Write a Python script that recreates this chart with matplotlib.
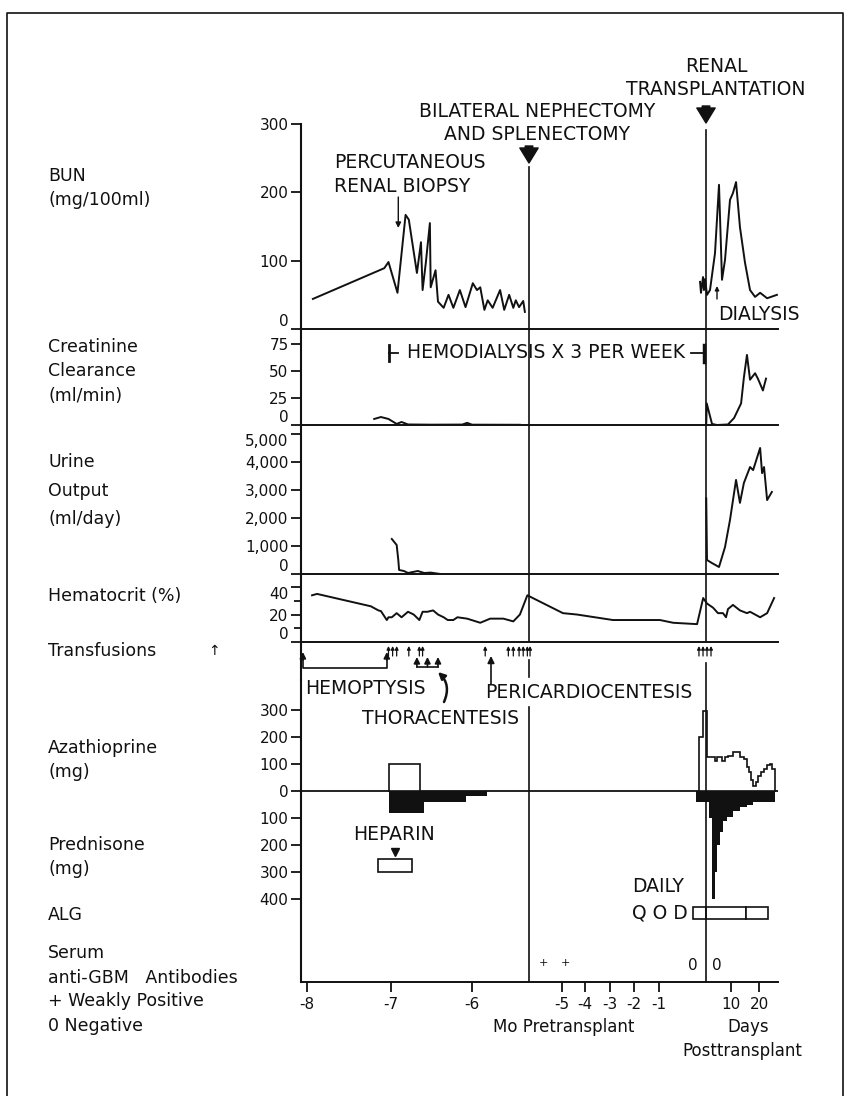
import numpy as np
import matplotlib
matplotlib.use('Agg')
import matplotlib.pyplot as plt
from matplotlib.patches import Rectangle
from matplotlib.lines import Line2D
from matplotlib.transforms import blended_transform_factory

plt.rcParams['font.family'] = ['DejaVu Sans']

W, H = 846, 1096
MO = 30.0          # pretransplant times are kept in months, the rest in days
INK = '#111111'

# ---------------- data ----------------
# BUN (mg/100ml)
bun_pre_mo = [-7.93, -7.08, -7.03, -6.92, -6.82, -6.78, -6.68, -6.63, -6.61, -6.57, -6.52, -6.51,
              -6.45, -6.42, -6.35, -6.29, -6.23, -6.15, -6.08, -5.99, -5.94, -5.90, -5.85, -5.81,
              -5.75, -5.66, -5.61, -5.55, -5.50, -5.47, -5.43, -5.38, -5.36]
bun_pre = [44, 89, 98, 53, 167, 160, 82, 127, 57, 97, 155, 61,
           86, 40, 31, 50, 31, 57, 32, 67, 57, 61, 28, 42,
           31, 57, 28, 50, 31, 42, 32, 41, 25]
bun_post_d = [-3.8, -3.2, -1.9, -1.3, -0.6, 0.4, 1.6, 3.6, 5.2, 6.4, 7.6, 9.6, 10.7, 11.8,
              13.2, 15.0, 16.8, 18.6, 20.4, 22.9, 26.4]
bun_post = [69, 53, 76, 57, 73, 50, 57, 111, 211, 72, 101, 189, 199, 215,
            149, 97, 57, 47, 53, 45, 50]

# creatinine clearance (ml/min)
cr_pre_mo = [-7.20, -7.12, -7.03, -6.93, -6.87, -6.79, -6.50, -6.12, -6.06, -6.00, -5.42]
cr_pre = [5.6, 7.4, 5.6, 1.0, 2.8, 0.5, 0.3, 0.4, 2.0, 0.3, 0.2]
cr_post_d = [0.1, 0.3, 2.4, 4.4, 8.8, 11.1, 13.6, 14.6, 15.7, 16.8, 18.6, 19.6, 21.4, 22.5]
cr_post = [0, 20, 1, 0, 0.5, 6.5, 20, 44, 65, 42, 48, 43, 32, 43]

# urine output (ml/day)
ur_pre_mo = [-6.99, -6.93, -6.91, -6.90, -6.84, -6.79, -6.67, -6.59, -6.51, -6.39]
ur_pre = [1250, 1036, 500, 143, 107, 36, 107, 36, 50, 0]
ur_post_d = [0.1, 0.4, 2.4, 5.2, 7.6, 9.6, 11.8, 13.2, 14.6, 16.8, 17.9, 20.4, 21.1, 21.8, 22.9, 24.6]
ur_post = [2700, 500, 390, 250, 960, 1930, 3360, 2540, 3250, 3820, 3710, 4500, 3600, 3820, 2640, 2930]

# hematocrit (%)
ht_pre_mo = [-7.94, -7.88, -7.24, -7.15, -7.12, -7.05, -7.03, -6.99, -6.93, -6.87,
             -6.79, -6.72, -6.65, -6.61, -6.55, -6.48, -6.42, -6.35, -6.30, -6.23,
             -6.18, -6.06, -5.90, -5.78, -5.62, -5.50, -5.42, -5.33, -5.30, -4.96,
             -4.35, -2.88, -0.98, -0.70, -0.19, -0.06]
ht_pre = [34, 35, 26, 23, 22.5, 16, 18, 18, 21, 18,
          22, 20, 16, 22, 22, 23, 20, 18, 16, 16,
          18, 17, 14, 17, 17, 15, 20, 34, 33, 21,
          20, 16, 16, 14, 13, 32]
ht_post_d = [0.4, 2.8, 4.8, 6.8, 8.0, 8.8, 10.7, 13.2, 15.7, 16.8, 18.6, 20.4, 22.9, 25.4]
ht_post = [28, 25, 21, 21, 18, 24, 27, 23, 21, 22, 20, 18, 21, 32]

# events
transf_pre_mo = [-7.03, -6.98, -6.93, -6.78, -6.65, -6.61, -5.84, -5.56, -5.50, -5.43, -5.38, -5.33, -5.30]
transf_post_d = [-4.5, -1.9, 0.4, 2.0]
hemoptysis_mo = [-8.05, -7.05]
thoracentesis_mo = [-6.68, -6.55, -6.42]
pericardio_mo = -5.77
biopsy_mo = -6.91
nephrectomy_mo = -5.31
transplant_d = 0.0
dialysis_d = 4.4
hemodialysis_start_mo = -7.02
hemodialysis_end_d = -1.5

# azathioprine / prednisone (mg), step edges and doses
aza_pre_edges_mo = [-7.02, -6.64]
aza_pre = [100]
aza_post_edges_d = [-4.5, -1.9, 0.4, 3.6, 4.4, 6.4, 7.6, 8.8, 10.7, 13.2, 14.6, 15.7,
                    16.4, 17.1, 17.9, 18.9, 19.6, 20.7, 21.8, 22.9, 23.9, 24.6, 25.7]
aza_post = [200, 295, 125, 110, 125, 110, 125, 130, 145, 125, 120,
            90, 70, 40, 20, 35, 55, 70, 80, 95, 100, 80]
pred_pre_edges_mo = [-7.02, -6.59, -6.08, -5.82]
pred_pre = [80, 40, 20]
pred_post_edges_d = [-6.4, 1.2, 2.4, 3.6, 4.4, 5.6, 6.8, 8.4, 10.7, 13.2, 15.7, 17.9, 25.7]
pred_post = [40, 100, 400, 300, 200, 150, 110, 95, 75, 60, 50, 40]
heparin_mo = [-7.16, -6.74]
heparin_mark_mo = -6.95

alg_edges_d = [-8.3, 0.0, 15.4, 23.2]
serum_plus_mo = [-5.17, -4.87]
serum_zero_d = [-8.3, 4.4]

xtick_days = [-240, -210, -180, -150, -120, -90, -60, -30, 10, 20]
xtick_labels = ['-8', '-7', '-6', '-5', '-4', '-3', '-2', '-1', '10', '20']

# broken time axis: days -> horizontal position
axis_days = [-250, -240, -210, -180, -159.3, -150, -120, -90, -60, -30, 0, 10, 20, 30]
axis_pos = [279.5, 307, 391, 472, 529, 562, 585, 610, 634, 659, 706, 731, 759, 787]


def fwd(d):
    return np.interp(d, axis_days, axis_pos)


def inv(p):
    return np.interp(p, axis_pos, axis_days)


def yf(py):
    return 1 - py / H


def ftxt(x, y, s, size=13.5, ha='left', **kw):
    fig.text(x / W, yf(y), s, size=size, ha=ha, va='center', color=INK, **kw)


fig = plt.figure(figsize=(W / 100, H / 100), dpi=100)

X0, X1 = 301, 778


def panel(top, bottom, ylim, bottom_spine=True):
    ax = fig.add_axes([X0 / W, yf(bottom), (X1 - X0) / W, (bottom - top) / H])
    ax.set_xscale('function', functions=(fwd, inv))
    ax.set_xlim(float(inv(X0)), float(inv(X1)))
    ax.set_ylim(*ylim)
    ax.patch.set_alpha(0)
    for s in ['top', 'right']:
        ax.spines[s].set_visible(False)
    ax.spines['bottom'].set_visible(bottom_spine)
    ax.spines['left'].set_linewidth(1.5)
    ax.spines['bottom'].set_linewidth(1.4)
    ax.spines['left'].set_color(INK)
    ax.spines['bottom'].set_color(INK)
    ax.tick_params(axis='x', which='both', bottom=False, labelbottom=False)
    ax.tick_params(axis='y', direction='out', length=7, width=1.3, labelsize=11, pad=2, colors=INK)
    return ax


ax_bun = panel(124, 329, (0, 300))
ax_cr = panel(329, 425, (0, 89))
ax_ur = panel(425, 574, (0, 5320))
ax_ht = panel(574, 642, (0, 49.5))
ax_tr = panel(642, 680, (0, 1), bottom_spine=False)
ax_dr = panel(680, 982, (-707, 411))

ax_bun.set_yticks([0, 100, 200, 300])
ax_cr.set_yticks([0, 25, 50, 75])
ax_ur.set_yticks([0, 1000, 2000, 3000, 4000, 5000],
                 ['0', '1,000', '2,000', '3,000', '4,000', '5,000'])
ax_ht.set_yticks([0, 20, 40])
ax_ht.set_yticks([10, 30], minor=True)
ax_ht.tick_params(axis='y', which='minor', length=5, width=1.2)
ax_tr.set_yticks([])
dr_ticks = [300, 200, 100, 0, -100, -200, -300, -400]
ax_dr.set_yticks(dr_ticks, [str(abs(t)) for t in dr_ticks])

# lift crowded labels off the panel borders
for ax in [ax_bun, ax_cr, ax_ur, ax_ht]:
    for lab in ax.get_yticklabels():
        if lab.get_text() == '0':
            lab.set_va('bottom')
ax_ur.get_yticklabels()[-1].set_va('top')
ax_ht.get_yticklabels()[-1].set_va('top')

ax_dr.set_xticks(xtick_days, xtick_labels)
ax_dr.tick_params(axis='x', bottom=True, labelbottom=True, direction='out', length=7,
                  width=1.3, labelsize=11, pad=4, colors=INK)

lw = 1.4
neph = nephrectomy_mo * MO

# data lines
ax_bun.plot(np.array(bun_pre_mo) * MO, bun_pre, color=INK, lw=lw)
ax_bun.plot(bun_post_d, bun_post, color=INK, lw=lw)
ax_cr.plot(np.array(cr_pre_mo) * MO, cr_pre, color=INK, lw=lw)
ax_cr.plot(cr_post_d, cr_post, color=INK, lw=lw)
ax_ur.plot(np.array(ur_pre_mo) * MO, ur_pre, color=INK, lw=lw)
ax_ur.plot(ur_post_d, ur_post, color=INK, lw=lw)
ax_ht.plot(np.concatenate([np.array(ht_pre_mo) * MO, ht_post_d]), ht_pre + ht_post, color=INK, lw=lw)


def step_outline(edges, vals):
    xs = np.repeat(np.asarray(edges, float), 2)
    ys = np.concatenate([[0], np.repeat(vals, 2), [0]])
    return xs, ys


for edges, vals in [(np.array(pred_pre_edges_mo) * MO, pred_pre), (pred_post_edges_d, pred_post)]:
    xs, ys = step_outline(edges, vals)
    ax_dr.fill(xs, -ys, color=INK, lw=0)
for edges, vals in [(np.array(aza_pre_edges_mo) * MO, aza_pre), (aza_post_edges_d, aza_post)]:
    xs, ys = step_outline(edges, vals)
    ax_dr.fill(xs, ys, facecolor='white', edgecolor=INK, lw=1.2)
ax_dr.axhline(0, color=INK, lw=1.3, zorder=0)

# heparin
ax_dr.add_patch(Rectangle((heparin_mo[0] * MO, -300), (heparin_mo[1] - heparin_mo[0]) * MO, 50,
                          facecolor='white', edgecolor=INK, lw=1.2))
ax_dr.plot([heparin_mark_mo * MO], [-225], marker='v', ms=6, color=INK)
ftxt(353, 834, 'HEPARIN')

# vertical event lines
for ax, lo, hi in [(ax_bun, 0, 0.79), (ax_cr, 0, 1), (ax_ur, 0, 1), (ax_ht, 0, 1),
                   (ax_tr, 0.08, 0.53), (ax_dr, 0, 0.91)]:
    ax.axvline(neph, ymin=lo, ymax=hi, color=INK, lw=1.2)
for ax, lo, hi in [(ax_bun, 0, 0.97), (ax_cr, 0, 1), (ax_ur, 0, 1), (ax_ht, 0, 1),
                   (ax_tr, 0, 0.45), (ax_dr, 0, 1)]:
    ax.axvline(transplant_d, ymin=lo, ymax=hi, color=INK, lw=1.2)

FC = ('data', 'figure fraction')


def arrow(ax, x, y_from, y_to, style='-|>', ms=8, lw=1.0):
    ax.annotate('', xy=(x, yf(y_to)), xytext=(x, yf(y_from)), xycoords=FC, textcoords=FC,
                annotation_clip=False,
                arrowprops=dict(arrowstyle=style, mutation_scale=ms, lw=lw, color=INK,
                                shrinkA=0, shrinkB=0))


big = 'simple,head_width=1.1,head_length=0.9,tail_width=0.45'
arrow(ax_bun, neph, 146, 163, style=big, ms=12)
arrow(ax_bun, transplant_d, 106, 123, style=big, ms=12)
arrow(ax_bun, biopsy_mo * MO, 197, 228, ms=8)
arrow(ax_bun, dialysis_d, 299, 286, ms=6)

ftxt(716, 67, 'RENAL', ha='center')
ftxt(716, 89, 'TRANSPLANTATION', ha='center')
ftxt(537, 111, 'BILATERAL NEPHECTOMY', ha='center')
ftxt(537, 135, 'AND SPLENECTOMY', ha='center')
ftxt(334, 163, 'PERCUTANEOUS')
ftxt(334, 186, 'RENAL BIOPSY')
ftxt(718, 315, 'DIALYSIS')

# hemodialysis period
tcr = blended_transform_factory(ax_cr.transData, fig.transFigure)
hs, he = hemodialysis_start_mo * MO, hemodialysis_end_d
ax_cr.plot([hs, hs], [yf(345), yf(361)], transform=tcr, color=INK, lw=2, clip_on=False)
ax_cr.plot([hs, hs + 3.3], [yf(353), yf(353)], transform=tcr, color=INK, lw=1.3, clip_on=False)
ax_cr.plot([he - 8, he], [yf(353), yf(353)], transform=tcr, color=INK, lw=1.3, clip_on=False)
ax_cr.plot([he, he], [yf(345), yf(362)], transform=tcr, color=INK, lw=2.5, clip_on=False)
ftxt(407, 353, 'HEMODIALYSIS X 3 PER WEEK')

# transfusions and procedures
for x in list(np.array(transf_pre_mo) * MO) + transf_post_d:
    arrow(ax_tr, x, 656, 646, ms=5, lw=0.9)

ttr = blended_transform_factory(ax_tr.transData, fig.transFigure)
h0, h1 = hemoptysis_mo[0] * MO, hemoptysis_mo[1] * MO
ax_tr.plot([h0, h0, h1, h1], [yf(656), yf(668), yf(668), yf(656)], transform=ttr,
           color=INK, lw=1.2, clip_on=False)
for x in [h0, h1]:
    arrow(ax_tr, x, 660, 652, ms=9, lw=1.2)
tx = np.array(thoracentesis_mo) * MO
ax_tr.plot([tx[0], tx[-1]], [yf(667), yf(667)], transform=ttr, color=INK, lw=1.2, clip_on=False)
for x in tx:
    arrow(ax_tr, x, 667, 657, ms=9, lw=1.2)
ax_tr.annotate('', xy=(tx[-1], yf(672)), xycoords=FC, xytext=(444, H - 702),
               textcoords='figure pixels', annotation_clip=False,
               arrowprops=dict(arrowstyle='-|>', connectionstyle='arc3,rad=0.35', lw=1.8,
                               mutation_scale=10, color=INK, shrinkA=0, shrinkB=0))
arrow(ax_tr, pericardio_mo * MO, 684, 656, ms=10, lw=1.2)

ftxt(305, 688, 'HEMOPTYSIS')
ftxt(362, 718, 'THORACENTESIS')
ftxt(485, 693, 'PERICARDIOCENTESIS')

# ALG
tdr = blended_transform_factory(ax_dr.transData, fig.transFigure)
for a, b in zip(alg_edges_d[:-1], alg_edges_d[1:]):
    ax_dr.add_patch(Rectangle((a, yf(919)), b - a, 12 / H, transform=tdr, facecolor='white',
                              edgecolor=INK, lw=1.2, clip_on=False))
ftxt(632, 886, 'DAILY')
ftxt(632, 913, 'Q O D')

# serum anti-GBM
for x in serum_plus_mo:
    ax_dr.text(x * MO, yf(963), '+', transform=tdr, ha='center', va='center', size=8, color=INK)
for x in serum_zero_d:
    ax_dr.text(x, yf(965), '0', transform=tdr, ha='center', va='center', size=11, color=INK)

ftxt(493, 1027, 'Mo Pretransplant', size=12)
ftxt(748, 1027, 'Days', size=12, ha='center')
ftxt(742, 1051, 'Posttransplant', size=12, ha='center')

# row labels
LX = 48
for s, y in [('BUN', 176), ('(mg/100ml)', 200), ('Creatinine', 347), ('Clearance', 371),
             ('(ml/min)', 396), ('Urine', 462), ('Output', 491), ('(ml/day)', 519),
             ('Hematocrit (%)', 596), ('Transfusions', 651), ('Azathioprine', 748),
             ('(mg)', 772), ('Prednisone', 845), ('(mg)', 869), ('ALG', 915),
             ('Serum', 953), ('anti-GBM   Antibodies', 978), ('+ Weakly Positive', 1001),
             ('0 Negative', 1026)]:
    ftxt(LX, y, s, size=12.5)
ftxt(LX + 160, 651, '\u2191', size=10)

# frame (left, top and right edges of the printed figure)
fig.add_artist(Line2D([7 / W, 7 / W, 843 / W, 843 / W], [0, yf(13), yf(13), 0],
                      transform=fig.transFigure, color=INK, lw=1.2))

fig.savefig('out.png', dpi=100)
